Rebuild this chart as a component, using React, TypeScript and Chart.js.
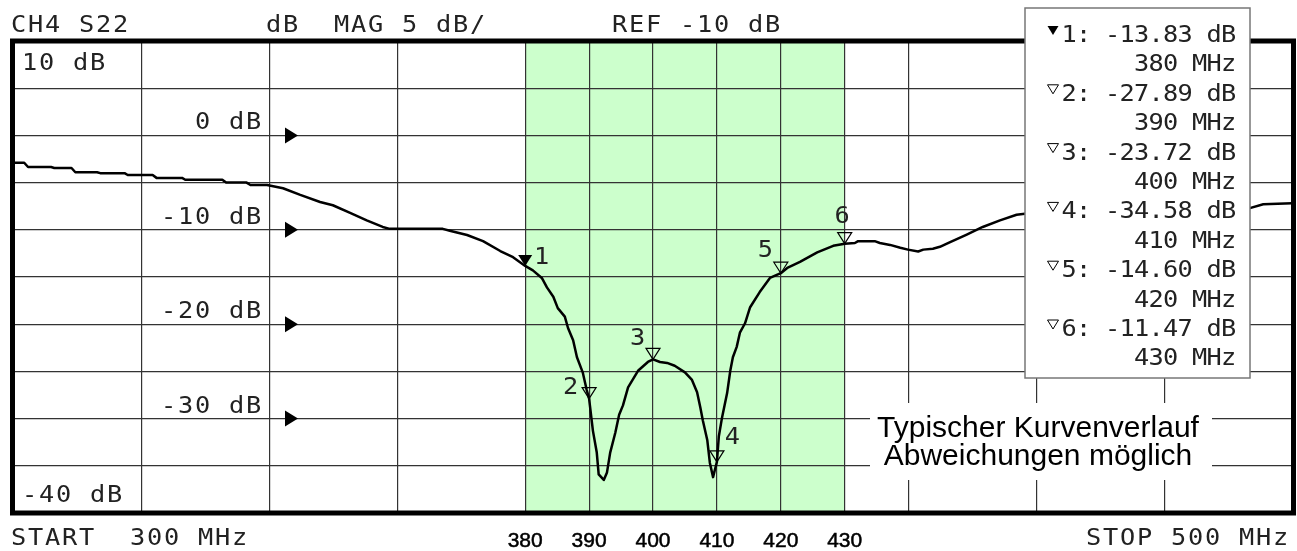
import React, { useEffect, useRef } from "react";
import { Chart, registerables } from "chart.js";

Chart.register(...registerables);

// ---- data ----
const traceFreq = [
  300.0, 301.6, 302.2, 305.8, 306.3, 309.0, 309.6, 313.0, 313.5, 317.3, 317.8, 321.7, 322.3, 326.3,
  326.8, 332.6, 333.2, 336.4, 337.0, 339.6, 342.1, 344.8, 347.9, 349.9, 352.6, 355.2, 357.7, 358.8,
  367.1, 368.2, 370.9, 373.4, 376.1, 378.1, 380.0, 381.2, 382.6, 383.4, 384.4, 385.1, 386.2, 386.7,
  387.5, 388.1, 389.0, 389.6, 390.0, 390.6, 391.2, 391.5, 392.3, 392.8, 393.3, 394.1, 394.7, 395.3,
  396.1, 397.7, 399.2, 400.0, 401.1, 402.2, 403.4, 405.0, 406.1, 406.9, 407.4, 407.8, 408.5, 408.9,
  409.4, 410.0, 410.3, 410.8, 411.6, 412.1, 412.5, 413.1, 413.6, 414.4, 415.2, 416.7, 418.3, 420.0,
  421.1, 423.0, 425.7, 428.2, 430.0, 431.6, 432.1, 434.7, 435.5, 437.1, 438.7, 439.9, 441.5, 442.3,
  443.8, 444.9, 446.5, 449.1, 451.6, 454.3, 456.9, 458.2, 470.0, 482.5, 493.4, 495.5, 500.0,
];
const traceDb = [
  -2.9, -2.9, -3.35, -3.35, -3.45, -3.45, -3.9, -3.9, -4.0, -4.0, -4.2, -4.2, -4.5, -4.5,
  -4.7, -4.7, -5.0, -5.0, -5.25, -5.25, -5.6, -6.3, -7.05, -7.4, -8.2, -9.0, -9.7, -9.9,
  -9.9, -10.1, -10.55, -11.2, -12.25, -12.9, -13.83, -14.3, -15.1, -16.1, -17.1, -18.3, -19.2, -20.4,
  -21.7, -23.5, -25.1, -26.9, -27.89, -31.3, -33.6, -35.9, -36.5, -35.7, -33.6, -31.5, -29.6, -28.6,
  -26.7, -24.9, -24.0, -23.72, -24.0, -24.1, -24.4, -25.1, -25.9, -27.2, -28.8, -30.2, -32.3, -34.7,
  -36.2, -34.58, -31.9, -29.9, -27.3, -24.9, -23.5, -22.4, -20.9, -19.9, -18.2, -16.6, -15.1, -14.6,
  -14.0, -13.4, -12.4, -11.7, -11.47, -11.4, -11.2, -11.2, -11.4, -11.6, -11.9, -12.1, -12.3, -12.1,
  -12.0, -11.8, -11.3, -10.5, -9.7, -9.0, -8.4, -8.3, -8.0, -7.8, -7.7, -7.3, -7.2,
];

const markerFreq = [380, 390, 400, 410, 420, 430];
const markerDb = [-13.83, -27.89, -23.72, -34.58, -14.6, -11.47];

const xGridValues = [300, 320, 340, 360, 380, 390, 400, 410, 420, 430, 440, 460, 480, 500];
const bandLabels = [380, 390, 400, 410, 420, 430];
const bandRange = [380, 430];
const refLevels = [0, -10, -20, -30];
const topRefLabel = "10 dB";
const bottomRefLabel = "-40 dB";

const headerLeft = "CH4 S22";
const headerMid = "dB  MAG 5 dB/";
const headerRef = "REF -10 dB";
const footerStart = "START  300 MHz";
const footerStop = "STOP 500 MHz";
const noteLines = ["Typischer Kurvenverlauf", "Abweichungen möglich"];

// ---- drawing helpers ----
const MONO = '23px "DejaVu Sans Mono"';
const GLYPH = 13;

function spaced(ctx: CanvasRenderingContext2D, text: string, x: number, y: number, pitch: number) {
  ctx.textAlign = "center";
  for (let i = 0; i < text.length; i++) {
    ctx.save();
    ctx.translate(x + i * pitch + GLYPH / 2, y);
    ctx.scale(1.1, 1);
    ctx.fillText(text[i], 0, 0);
    ctx.restore();
  }
}
function spacedRight(ctx: CanvasRenderingContext2D, text: string, xEnd: number, y: number, pitch: number) {
  spaced(ctx, text, xEnd - GLYPH - (text.length - 1) * pitch, y, pitch);
}
function tri(ctx: CanvasRenderingContext2D, tipX: number, tipY: number, w: number, h: number, filled: boolean) {
  ctx.beginPath();
  ctx.moveTo(tipX, tipY);
  ctx.lineTo(tipX - w / 2, tipY - h);
  ctx.lineTo(tipX + w / 2, tipY - h);
  ctx.closePath();
  if (filled) ctx.fill();
  else ctx.stroke();
}

const overlayPlugin = {
  id: "overlay",
  beforeDraw(chart: any) {
    const { ctx, chartArea: a, scales } = chart;
    const x1 = scales.x.getPixelForValue(bandRange[0]);
    const x2 = scales.x.getPixelForValue(bandRange[1]);
    ctx.save();
    ctx.fillStyle = "rgb(204,255,204)";
    ctx.fillRect(x1, a.top, x2 - x1, a.bottom - a.top);
    ctx.restore();
  },
  afterDatasetsDraw(chart: any) {
    const { ctx, scales } = chart;
    const labelOff = [
      [11, -2],
      [-24, -5],
      [-21, -14],
      [10, -18],
      [-21, -16],
      [-8, -21],
    ];
    ctx.save();
    ctx.fillStyle = "#000";
    ctx.strokeStyle = "#000";
    ctx.lineWidth = 1.2;
    ctx.font = MONO;
    ctx.textBaseline = "alphabetic";
    markerFreq.forEach((f, i) => {
      const px = scales.x.getPixelForValue(f);
      const py = scales.y.getPixelForValue(markerDb[i]);
      tri(ctx, px, py, 14, 11, i === 0);
      ctx.fillStyle = "#222";
      spaced(ctx, String(i + 1), px + labelOff[i][0] - 1, py + labelOff[i][1], 17);
      ctx.fillStyle = "#000";
    });
    ctx.restore();
  },
  afterDraw(chart: any) {
    const { ctx, chartArea: a, scales } = chart;
    ctx.save();
    // thick frame
    ctx.strokeStyle = "#000";
    ctx.lineWidth = 5;
    ctx.strokeRect(a.left - 1.5, a.top, a.right - a.left + 3, a.bottom - a.top);

    ctx.fillStyle = "#222";
    ctx.font = MONO;
    ctx.textBaseline = "alphabetic";
    // header / footer
    spaced(ctx, headerLeft, 12, 32, 17);
    spaced(ctx, headerMid, 267, 32, 17);
    spaced(ctx, headerRef, 613, 32, 17);
    spaced(ctx, footerStart, 12, 545, 17);
    spacedRight(ctx, footerStop, 1287, 545, 17);

    // reference level labels
    spaced(ctx, topRefLabel, 23, a.top + 29, 17);
    spaced(ctx, bottomRefLabel, 23, a.bottom - 11, 17);
    refLevels.forEach((v) => {
      const py = scales.y.getPixelForValue(v);
      ctx.fillStyle = "#222";
      spacedRight(ctx, `${v} dB`, 260, py - 6, 17);
      ctx.fillStyle = "#000";
      ctx.beginPath();
      ctx.moveTo(285, py - 8);
      ctx.lineTo(285, py + 8);
      ctx.lineTo(298, py);
      ctx.closePath();
      ctx.fill();
    });

    // band frequency labels
    ctx.fillStyle = "#000";
    ctx.font = '21px "Liberation Sans"';
    ctx.textAlign = "center";
    ctx.strokeStyle = "#000";
    ctx.lineWidth = 0.5;
    bandLabels.forEach((f) => {
      const px = scales.x.getPixelForValue(f);
      ctx.fillText(String(f), px, 547);
      ctx.strokeText(String(f), px, 547);
    });

    // note with white background
    ctx.fillStyle = "#fff";
    ctx.fillRect(870, 403, 342, 77);
    ctx.fillStyle = "#000";
    ctx.font = '30px "Liberation Sans"';
    ctx.textAlign = "center";
    ctx.fillText(noteLines[0], 1038, 437);
    ctx.fillText(noteLines[1], 1038, 465);

    // marker readout box
    ctx.fillStyle = "#fff";
    ctx.fillRect(1025, 8, 225, 370);
    ctx.strokeStyle = "#777";
    ctx.lineWidth = 1.5;
    ctx.strokeRect(1025, 8, 225, 370);
    ctx.font = MONO;
    markerFreq.forEach((f, i) => {
      const b1 = 42 + i * 2 * 29.4;
      const b2 = b1 + 29.4;
      ctx.fillStyle = "#222";
      spacedRight(ctx, `${i + 1}: ${markerDb[i].toFixed(2)} dB`, 1235, b1, 14.5);
      spacedRight(ctx, `${f} MHz`, 1235, b2, 14.5);
      ctx.fillStyle = "#000";
      ctx.strokeStyle = "#000";
      ctx.lineWidth = 1;
      tri(ctx, 1053, b1 - 7, 11, 9, i === 0);
    });
    ctx.restore();
  },
};

export default function App() {
  const ref = useRef<HTMLCanvasElement | null>(null);
  useEffect(() => {
    document.body.style.margin = "0";
    const canvas = ref.current;
    if (!canvas) return;
    const chart = new Chart(canvas, {
      type: "line",
      data: {
        datasets: [
          {
            data: traceFreq.map((f, i) => ({ x: f, y: traceDb[i] })),
            borderColor: "#000",
            borderWidth: 2.5,
            pointRadius: 0,
            tension: 0,
            fill: false,
            borderJoinStyle: "round",
          },
        ],
      },
      options: {
        animation: false,
        responsive: false,
        events: [],
        layout: { padding: { left: 14, right: 5, top: 41, bottom: 38 } },
        plugins: { legend: { display: false }, tooltip: { enabled: false } },
        scales: {
          x: {
            type: "linear",
            min: 300,
            max: 500,
            afterBuildTicks: (s: any) => {
              s.ticks = xGridValues.map((v) => ({ value: v }));
            },
            ticks: { display: false },
            grid: { color: "#333", lineWidth: 1.2, drawTicks: false },
            border: { display: false },
          },
          y: {
            type: "linear",
            min: -40,
            max: 10,
            ticks: { display: false, stepSize: 5 },
            grid: { color: "#333", lineWidth: 1.2, drawTicks: false },
            border: { display: false },
          },
        },
      },
      plugins: [overlayPlugin],
    } as any);
    return () => chart.destroy();
  }, []);
  return (
    <div style={{ position: "absolute", left: 0, top: 0, width: 1297, height: 551, background: "#fff" }}>
      <canvas ref={ref} width={1297} height={551} style={{ display: "block" }} />
    </div>
  );
}
